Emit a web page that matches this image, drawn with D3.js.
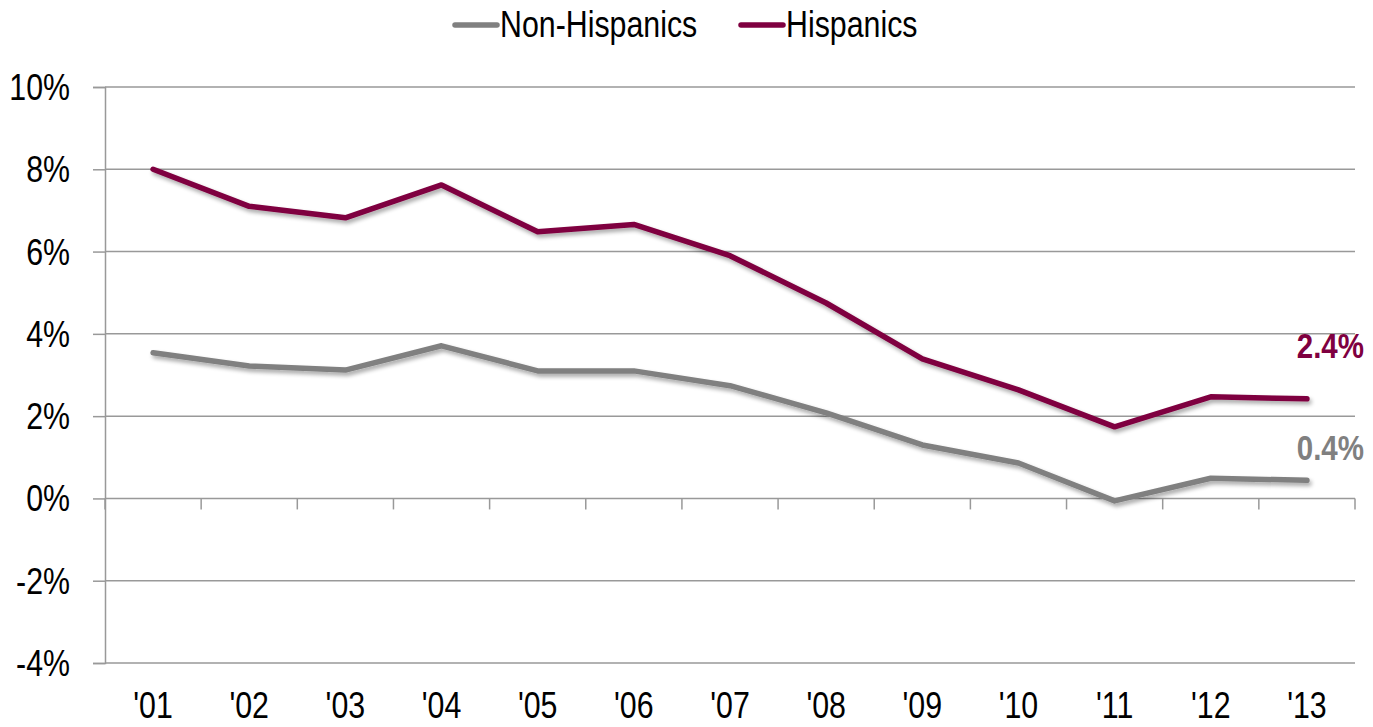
<!DOCTYPE html>
<html><head><meta charset="utf-8">
<script src="https://cdn.jsdelivr.net/npm/d3@7"></script>
<style>
body{margin:0;background:#fff;}
text{font-family:"Liberation Sans","Arial",sans-serif;}
</style></head><body>
<svg id="c" width="1373" height="727"></svg>
<script>
const years = ["'01","'02","'03","'04","'05","'06","'07","'08","'09","'10","'11","'12","'13"];
const hispanics = [8.0,7.1,6.82,7.62,6.48,6.66,5.9,4.75,3.39,2.64,1.74,2.47,2.42];
const nonHispanics = [3.54,3.22,3.12,3.71,3.1,3.1,2.74,2.08,1.3,0.86,-0.06,0.49,0.44];
const yTicks = [-4,-2,0,2,4,6,8,10];
const seriesNames = ["Non-Hispanics","Hispanics"];
const seriesColors = ["#808080","#7f0040"];
const endLabels = ["0.4%","2.4%"];

const SX = 0.82, FS = 37;
const svg = d3.select("#c");
const L=105, R=1355, T=87, B=663;
const x = d3.scaleBand().domain(years).range([L,R]);
const y = d3.scaleLinear().domain([-4,10]).range([B,T]);

function ntext(g, px, py, str, anchor, opts={}){
  return g.append("text").attr("transform",`translate(${px},${py}) scale(${SX},1)`)
    .attr("text-anchor",anchor).attr("font-size",opts.size||FS)
    .attr("font-weight",opts.weight||"normal").attr("fill",opts.fill||"#000").text(str);
}

const defs = svg.append("defs");
const f = defs.append("filter").attr("id","sh").attr("x","-5%").attr("y","-20%").attr("width","110%").attr("height","140%");
f.append("feGaussianBlur").attr("in","SourceAlpha").attr("stdDeviation",2).attr("result","b");
f.append("feOffset").attr("in","b").attr("dx",2).attr("dy",3).attr("result","o");
f.append("feComponentTransfer").attr("in","o").attr("result","o2").append("feFuncA").attr("type","linear").attr("slope",0.35);
const m = f.append("feMerge"); m.append("feMergeNode").attr("in","o2"); m.append("feMergeNode").attr("in","SourceGraphic");

// y axis with ticks
const yAxis = d3.axisLeft(y).tickValues(yTicks).tickSize(12).tickFormat("");
const gy = svg.append("g").attr("transform",`translate(${L},0)`).call(yAxis);
gy.select(".domain").attr("stroke","#999").attr("stroke-width",1.5);
gy.selectAll(".tick line").attr("stroke","#999").attr("stroke-width",1.5);
const gyl = svg.append("g");
yTicks.forEach(t=>ntext(gyl, 70, y(t)+13, t+"%", "end"));

// gridlines
svg.append("g").selectAll("line").data(yTicks).join("line")
  .attr("x1",L).attr("x2",R).attr("y1",d=>y(d)).attr("y2",d=>y(d))
  .attr("stroke","#999").attr("stroke-width",1.5);

// x axis on zero line with downward ticks at band boundaries
const bounds = years.map(d=>x(d)).concat([R]);
svg.append("g").selectAll("line").data(bounds).join("line")
  .attr("x1",d=>d).attr("x2",d=>d).attr("y1",y(0)).attr("y2",y(0)+11)
  .attr("stroke","#999").attr("stroke-width",1.5);
const gxl = svg.append("g");
years.forEach(d=>ntext(gxl, x(d)+x.bandwidth()/2, 718, d, "middle"));

// lines
const line = d3.line().x((d,i)=>x(years[i])+x.bandwidth()/2).y(d=>y(d));
[nonHispanics,hispanics].forEach((s,i)=>{
  svg.append("path").datum(s).attr("d",line).attr("fill","none")
    .attr("stroke",seriesColors[i]).attr("stroke-width",5.5)
    .attr("stroke-linejoin","round").attr("stroke-linecap","round").attr("filter","url(#sh)");
});

// end labels
const gel = svg.append("g");
ntext(gel, 1364, y(hispanics[12])-41, endLabels[1], "end", {weight:"bold", fill:seriesColors[1], size:36});
ntext(gel, 1364, y(nonHispanics[12])-20, endLabels[0], "end", {weight:"bold", fill:seriesColors[0], size:36});

// legend
const leg = [{x:455,name:seriesNames[0],c:seriesColors[0]},{x:741,name:seriesNames[1],c:seriesColors[1]}];
const gl = svg.append("g");
leg.forEach(l=>{
  gl.append("line").attr("x1",l.x).attr("x2",l.x+42).attr("y1",25).attr("y2",25)
    .attr("stroke",l.c).attr("stroke-width",5.5).attr("stroke-linecap","round");
  ntext(gl, l.x+45, 37, l.name, "start");
});
</script></body></html>
